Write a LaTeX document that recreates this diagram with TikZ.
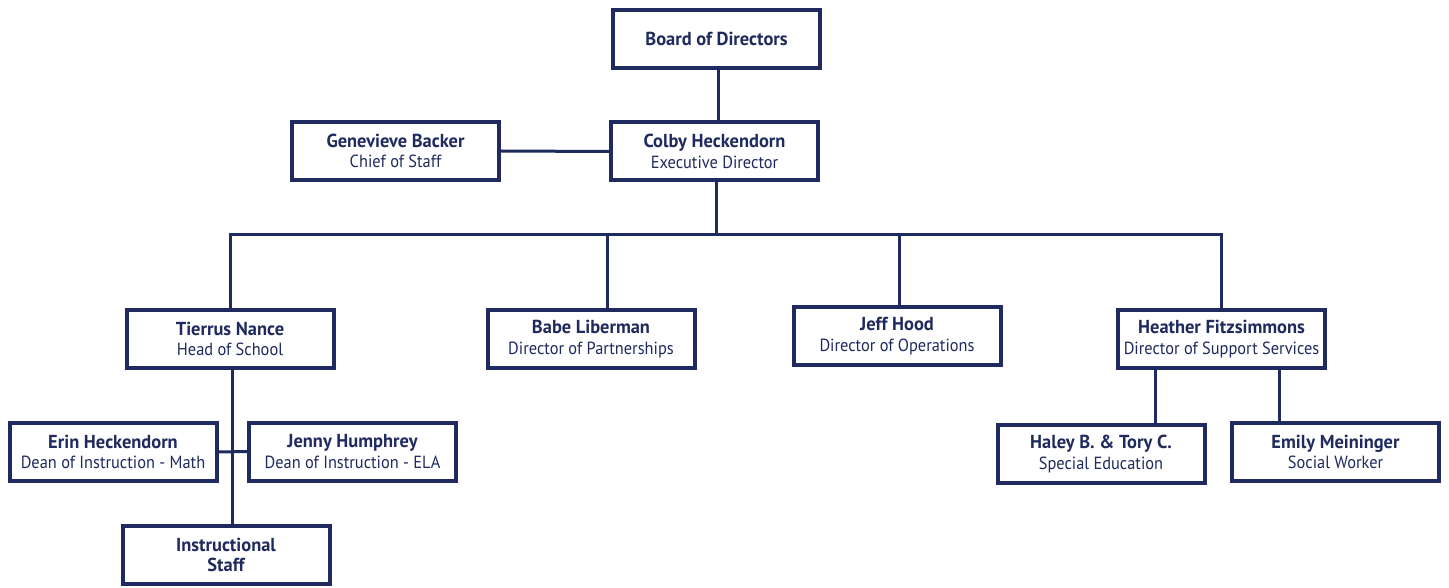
\documentclass[tikz,border=0pt]{standalone}
\usepackage{fontspec}
\setmainfont{PT Sans}[FakeStretch=0.93]
\newfontfamily\namefont{PT Sans Bold}[FakeStretch=0.98]
\usetikzlibrary{calc}
\definecolor{navy}{HTML}{1F2B5E}
\tikzset{
  box/.style={draw=navy, line width=2pt, fill=white, minimum width=103.5pt, minimum height=29pt, inner sep=0pt, align=center, text=navy, font=\fontsize{8.8pt}{10.3pt}\selectfont},
  link/.style={draw=navy, line width=1.5pt},
}
\newcommand{\nm}[1]{{\namefont\fontsize{9.4pt}{10.3pt}\selectfont #1}}
\newcommand{\tl}[1]{#1}
\begin{document}
\begin{tikzpicture}[x=0.5pt,y=-0.5pt]
\useasboundingbox (0,0) rectangle (1449,588);
\node[box] (board) at (716.5,39) {\nm{Board of Directors}};
\node[box] (colby) at (714.5,151.5) {\nm{Colby Heckendorn}\\\tl{Executive Director}};
\node[box] (gen) at (395.5,151) {\nm{Genevieve Backer}\\\tl{Chief of Staff}};
\node[box] (tierrus) at (230,339) {\nm{Tierrus Nance}\\\tl{Head of School}};
\node[box] (babe) at (591,339) {\nm{Babe Liberman}\\\tl{Director of Partnerships}};
\node[box] (jeff) at (897,336) {\nm{Jeff Hood}\\\tl{Director of Operations}};
\node[box] (heather) at (1221.5,339) {\nm{Heather Fitzsimmons}\\\tl{Director of Support Services}};
\node[box] (erin) at (113,452) {\nm{Erin Heckendorn}\\\tl{Dean of Instruction - Math}};
\node[box] (jenny) at (352.5,451.5) {\nm{Jenny Humphrey}\\\tl{Dean of Instruction - ELA}};
\node[box] (staff) at (226,555) {\nm{Instructional}\\\nm{Staff}};
\node[box] (haley) at (1101,454) {\nm{Haley B. \& Tory C.}\\\tl{Special Education}};
\node[box] (emily) at (1335.5,452) {\nm{Emily Meininger}\\\tl{Social Worker}};
\coordinate (bus) at (716,234);
\path (board.south) ++(1.5,0) coordinate (c0);
\draw[link] (c0) -- (c0 |- colby.north);
\draw[link] (gen.east) -- (colby.west);
\draw[link] (colby.south -| bus) -- (bus);
\draw[link] (tierrus.north) |- (bus) -| (heather.north);
\path (babe.north) ++(16,0) coordinate (b1);
\draw[link] (b1) -- (b1 |- bus);
\path (jeff.north) ++(2,0) coordinate (j1);
\draw[link] (j1) -- (j1 |- bus);
\path (tierrus.south) ++(2,0) coordinate (t1);
\draw[link] (t1) -- (t1 |- staff.north);
\draw[link] (erin.east) -- (jenny.west);
\path (heather.south) ++(-66.5,0) coordinate (h1);
\draw[link] (h1) -- (h1 |- haley.north);
\path (heather.south) ++(57.5,0) coordinate (h2);
\draw[link] (h2) -- (h2 |- emily.north);
\end{tikzpicture}
\end{document}
